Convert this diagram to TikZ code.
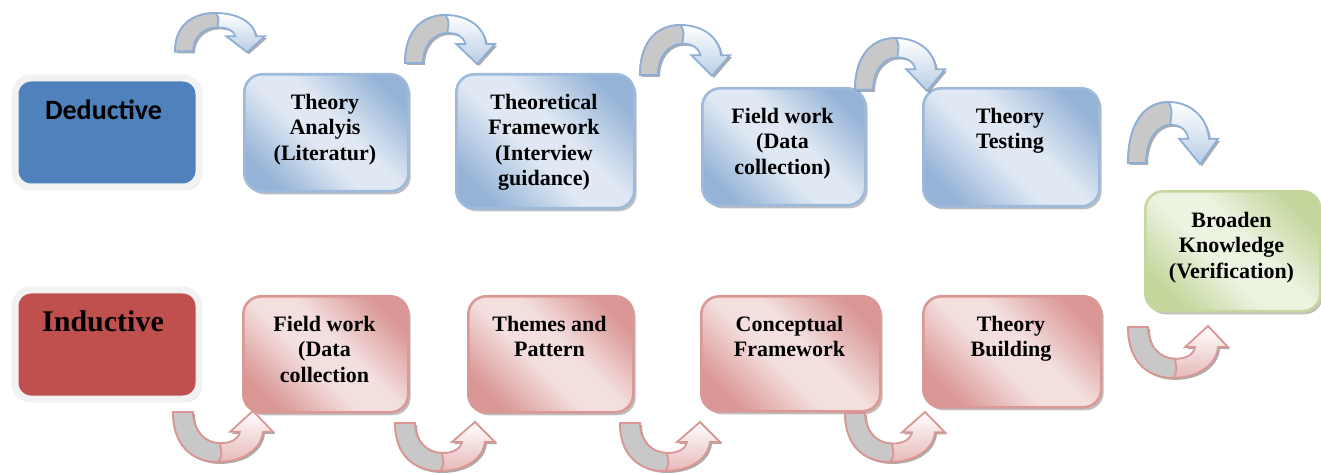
\documentclass[tikz,border=0pt]{standalone}
\usepackage{fontspec}
\setmainfont{Liberation Serif}
\newfontfamily\calibri{Carlito}
\usepackage{tikz}
\usetikzlibrary{shadows}

\definecolor{bluedk}{HTML}{95B3D7}
\definecolor{bluelt}{HTML}{DFE8F3}
\definecolor{blueedge}{HTML}{9DB9DC}
\definecolor{reddk}{HTML}{D99694}
\definecolor{redlt}{HTML}{F3DFDE}
\definecolor{rededge}{HTML}{DA9997}
\definecolor{greendk}{HTML}{C3D69B}
\definecolor{greenlt}{HTML}{EDF3E1}
\definecolor{greenedge}{HTML}{C5D79F}
\definecolor{deductblue}{HTML}{4F81BD}
\definecolor{inductred}{HTML}{C0504D}
\definecolor{framegray}{HTML}{F2F2F2}
\definecolor{bendblue}{HTML}{B9CDE5}
\definecolor{bendbluedk}{HTML}{8FAED6}
\definecolor{bendred}{HTML}{E6B9B8}
\definecolor{bendreddk}{HTML}{D99694}
\definecolor{bendgray}{HTML}{C8C8C8}

\pgfdeclarehorizontalshading{bluegloss}{100bp}{color(0bp)=(bluedk); color(24bp)=(bluedk); color(44bp)=(bluelt); color(56bp)=(bluelt); color(76bp)=(bluedk); color(100bp)=(bluedk)}
\pgfdeclarehorizontalshading{redgloss}{100bp}{color(0bp)=(reddk); color(24bp)=(reddk); color(44bp)=(redlt); color(56bp)=(redlt); color(76bp)=(reddk); color(100bp)=(reddk)}
\pgfdeclarehorizontalshading{greengloss}{100bp}{color(0bp)=(greendk); color(24bp)=(greendk); color(44bp)=(greenlt); color(56bp)=(greenlt); color(76bp)=(greendk); color(100bp)=(greendk)}

\tikzset{
  bendbody/.style={line width=0.9pt,
    drop shadow={shadow xshift=1pt, shadow yshift=-1pt, fill=black!55, opacity=.6}},
  backface/.style={fill=bendgray, line width=0.9pt},
  upbend/.pic={
    \shade[bendbody, top color=white, bottom color=bendblue, draw=bendbluedk]
      (0,48) .. controls (0,15) and (20,0) .. (45,0) .. controls (70,0) and (88,12) .. (90,29)
      -- (100,29) -- (80,49) -- (57,29) -- (67,29)
      .. controls (65,21) and (57,18) .. (47,18) .. controls (32,18) and (20,30) .. (20,48) -- cycle;
    \filldraw[backface, draw=bendbluedk]
      (0,48) .. controls (0,15) and (20,0) .. (45,0) .. controls (49,6) .. (47,18)
      .. controls (32,18) and (20,30) .. (20,48) -- cycle;
  },
  downbend/.pic={
    \shade[bendbody, top color=white, bottom color=bendred, draw=bendreddk]
      (0,0) .. controls (0,33) and (20,48) .. (45,48) .. controls (70,48) and (88,36) .. (90,19)
      -- (100,19) -- (80,-1) -- (57,19) -- (67,19)
      .. controls (65,27) and (57,30) .. (47,30) .. controls (32,30) and (20,18) .. (20,0) -- cycle;
    \filldraw[backface, draw=bendreddk]
      (0,0) .. controls (0,33) and (20,48) .. (45,48) .. controls (49,42) .. (47,30)
      .. controls (32,30) and (20,18) .. (20,0) -- cycle;
  }
}

\begin{document}
\begin{tikzpicture}[x=0.5pt, y=-0.5pt,
    stage/.style={anchor=north west, rounded corners=9pt, line width=1.3pt, shade, shading angle=45,
      drop shadow={shadow xshift=1.2pt, shadow yshift=-1.5pt, fill=black!50, opacity=.5}},
    bluestage/.style={stage, draw=blueedge, shading=bluegloss},
    redstage/.style={stage, draw=rededge, shading=redgloss},
    greenstage/.style={stage, draw=greenedge, shading=greengloss},
    framebox/.style={anchor=north west, rounded corners=8pt, draw=framegray, line width=3.5pt,
      minimum width=92pt, minimum height=54.5pt,
      drop shadow={shadow xshift=1.2pt, shadow yshift=-1.5pt, fill=black!45, opacity=.5}},
    stagetext/.style={anchor=north, align=center, inner sep=0pt, font=\fontsize{11}{12.6}\selectfont\bfseries}]
  \useasboundingbox (0,0) rectangle (1321,475);

  % approaches
  \node[framebox, fill=deductblue] (deduct) at (11.5,74.5) {};
  \node[anchor=base, inner sep=0pt, font=\calibri\bfseries\fontsize{14}{16}\selectfont] (deductlbl) at (103.5,120) {Deductive};
  \node[framebox, fill=inductred] (induct) at (11.5,286.5) {};
  \node[anchor=base, inner sep=0pt, font=\bfseries\fontsize{15}{17}\selectfont] (inductlbl) at (103,332) {Inductive};

  % deductive row
  \node[bluestage, minimum width=82pt, minimum height=58.5pt] (ded1) at (243,73) {};
  \node[stagetext] (ded1t) at (325,94) {Theory\\Analyis\\(Literatur)};
  \node[bluestage, minimum width=89pt, minimum height=67pt] (ded2) at (455,73) {};
  \node[stagetext] (ded2t) at (544,94) {Theoretical\\Framework\\(Interview\\guidance)};
  \node[bluestage, minimum width=81.5pt, minimum height=58.5pt] (ded3) at (701,87) {};
  \node[stagetext] (ded3t) at (782.5,108) {Field work\\(Data\\collection)};
  \node[bluestage, minimum width=88pt, minimum height=59pt] (ded4) at (922,87) {};
  \node[stagetext] (ded4t) at (1010,108) {Theory\\Testing};

  % result
  \node[greenstage, minimum width=87.5pt, minimum height=60pt] (broad) at (1144,190) {};
  \node[stagetext] (broadt) at (1231.5,212) {Broaden\\Knowledge\\(Verification)};

  % inductive row
  \node[redstage, minimum width=82.5pt, minimum height=58pt] (ind1) at (242,295) {};
  \node[stagetext] (ind1t) at (324.5,316) {Field work\\(Data\\collection};
  \node[redstage, minimum width=82.5pt, minimum height=58pt] (ind2) at (467,295) {};
  \node[stagetext] (ind2t) at (549.5,316) {Themes and\\Pattern};
  \node[redstage, minimum width=89.5pt, minimum height=57.5pt] (ind3) at (700,295) {};
  \node[stagetext] (ind3t) at (789.5,316) {Conceptual\\Framework};
  \node[redstage, minimum width=89pt, minimum height=55.5pt] (ind4) at (922,295) {};
  \node[stagetext] (ind4t) at (1011,316) {Theory\\Building};

  % bent arrows
  \foreach \x/\y/\s in {175/13/0.8, 405/15/1, 640/25/1.04, 855/38/1.08, 1128/102/1.27}
    \pic[xscale=0.9, yscale=\s] at (\x,\y) {upbend};
  \foreach \x/\y/\s in {173/412/1.04, 395/423/1, 620/423/1, 845/413/1.02, 1128/327/1.06}
    \pic[yscale=\s] at (\x,\y) {downbend};
\end{tikzpicture}
\end{document}
